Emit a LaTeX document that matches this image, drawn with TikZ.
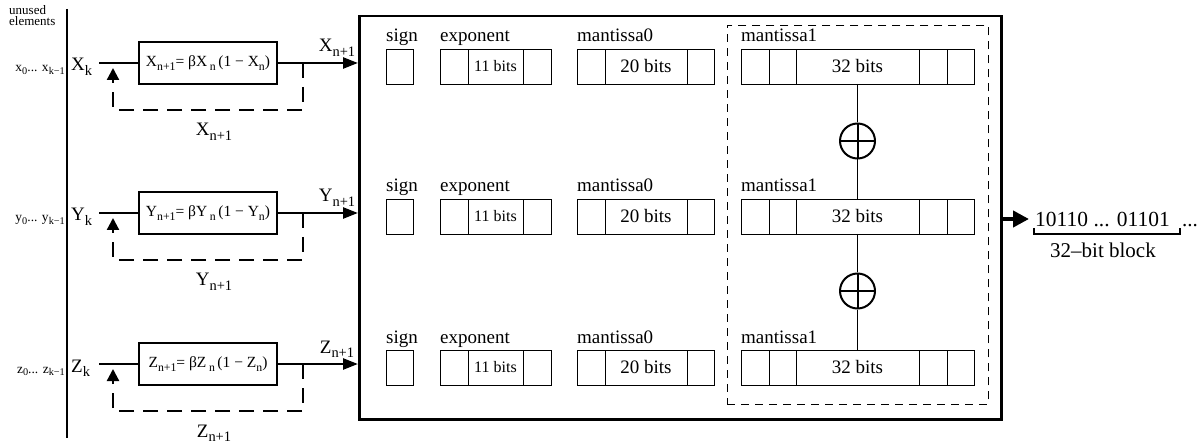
\documentclass[tikz,border=0pt]{standalone}
\usepackage{fontspec}
\setmainfont{Liberation Serif}
\usetikzlibrary{arrows.meta}
\newcommand\fsz[1]{\fontsize{#1}{#1}\selectfont}
\newcommand\sbs[1]{\raisebox{-0.22em}{\scalebox{0.76}{#1}}}
\begin{document}
\begin{tikzpicture}[x=1pt,y=-1pt,
  cell/.style={draw, line width=0.9pt, minimum height=35pt, inner sep=0pt, outer sep=0pt, anchor=north west},
  lbl/.style={font=\fsz{19}, inner sep=0pt, anchor=base west},
  fbox/.style={draw, line width=2pt, minimum width=138pt, minimum height=42pt, inner sep=0pt, font=\fsz{15.5}},
  sig/.style={line width=2.5pt},
  fb/.style={line width=2.2pt, dash pattern=on 15pt off 9pt, -{Triangle[length=12pt,width=12pt]}},
  xor/.style={circle, draw, line width=2pt, minimum size=35pt, inner sep=0pt,
    path picture={\draw[line width=2pt] (path picture bounding box.north) -- (path picture bounding box.south)
      (path picture bounding box.west) -- (path picture bounding box.east);}},
  ]
\useasboundingbox (0,0) rectangle (1204,446);

% main frame and dashed group
\node[draw, line width=2.5pt, minimum width=642pt, minimum height=403pt, inner sep=0pt, anchor=north west] (main) at (358,15) {};
\node[draw, line width=0.9pt, dash pattern=on 8pt off 6pt, minimum width=261pt, minimum height=379pt, inner sep=0pt, anchor=north west] (grp) at (727,25) {};

% left bar
\coordinate (bartop) at (67,9);
\coordinate (barbot) at (67,438);
\draw[line width=2.8pt] (bartop) -- (barbot);
\node[font=\fsz{13}, align=left, inner sep=0pt, anchor=north west] (unused) at (9,5) {unused\\[-1.5pt]elements};

\foreach \V/\v/\yy in {X/x/63, Y/y/213, Z/z/364} {
  % generator stage
  \node[fbox] (f\V) at (208,\yy) {\V\sbs{n+1}= β\V\,\sbs{n}\,(1 − \V\sbs{n})};
  \node[font=\fsz{19}, inner sep=0pt, anchor=base west] (k\V) at (71,\yy+8) {\V\sbs{k}};
  \node[font=\fsz{13.5}, inner sep=0pt, anchor=base east] (u\V) at (65,\yy+9) {\v\sbs{0}... \v\sbs{k−1}};
  \coordinate (in\V) at (99,\yy);
  \coordinate (tap\V) at (303,\yy);
  \coordinate (ar\V) at (113,\yy+5);
  \draw[sig] (in\V) -- (f\V);
  \draw[sig, -{Triangle[length=15pt,width=11pt]}] (f\V) -- (f\V -| main.west);
  \draw[fb] (tap\V) -- ++(0,47) -| (ar\V);
  \node[font=\fsz{19}, inner sep=0pt, anchor=base] (o\V) at (337,\yy-11) {\V\sbs{n+1}};
  \node[font=\fsz{19}, inner sep=0pt, anchor=base] (b\V) at (214,\yy+73) {\V\sbs{n+1}};
  % bit fields
  \pgfmathsetmacro{\t}{\yy-14}
  \node[cell, minimum width=27pt] (s\V) at (386,\t) {};
  \node[lbl] at (386,\t-7) {sign};
  \node[cell, minimum width=28pt] (e1\V) at (440,\t) {};
  \node[cell, minimum width=55pt, font=\fsz{16}] (e2\V) at (468,\t) {11 bits};
  \node[cell, minimum width=28pt] (e3\V) at (523,\t) {};
  \node[lbl] at (440,\t-7) {exponent};
  \node[cell, minimum width=28pt] (a1\V) at (577,\t) {};
  \node[cell, minimum width=82pt, font=\fsz{19}] (a2\V) at (605,\t) {20 bits};
  \node[cell, minimum width=27pt] (a3\V) at (687,\t) {};
  \node[lbl] at (577,\t-7) {mantissa0};
  \node[cell, minimum width=28pt] (m1\V) at (741,\t) {};
  \node[cell, minimum width=27pt] (m2\V) at (769,\t) {};
  \node[cell, minimum width=123pt, font=\fsz{19}] (m3\V) at (796,\t) {32 bits};
  \node[cell, minimum width=28pt] (m4\V) at (919,\t) {};
  \node[cell, minimum width=27pt] (m5\V) at (947,\t) {};
  \node[lbl] at (741,\t-7) {mantissa1};
}

% XOR combination
\node[xor] (xa) at (857.5,141) {};
\node[xor] (xb) at (857.5,291) {};
\draw[line width=0.9pt] (m3X.south) -- (xa.north);
\draw[line width=0.9pt] (xa.south) -- (m3Y.north);
\draw[line width=0.9pt] (m3Y.south) -- (xb.north);
\draw[line width=0.9pt] (xb.south) -- (m3Z.north);

% output
\coordinate (outend) at (1029,219);
\draw[line width=4.5pt, -{Triangle[length=16pt,width=16pt]}] (main.east |- outend) -- (outend);
\node[font=\fsz{21.5}, inner sep=0pt, anchor=base west] (bits) at (1035,227) {10110 ... 01101};
\node[font=\fsz{21}, inner sep=0pt, anchor=base west] (dots) at (1182,227) {...};
\coordinate (bl) at (1034,234);
\coordinate (br) at (1180,234);
\draw[line width=1.6pt] ([yshift=6pt]bl) -- (bl) -- (br) -- ([yshift=6pt]br);
\node[font=\fsz{21}, inner sep=0pt, anchor=base] (blk) at (1103,258) {32–bit block};
\end{tikzpicture}
\end{document}
